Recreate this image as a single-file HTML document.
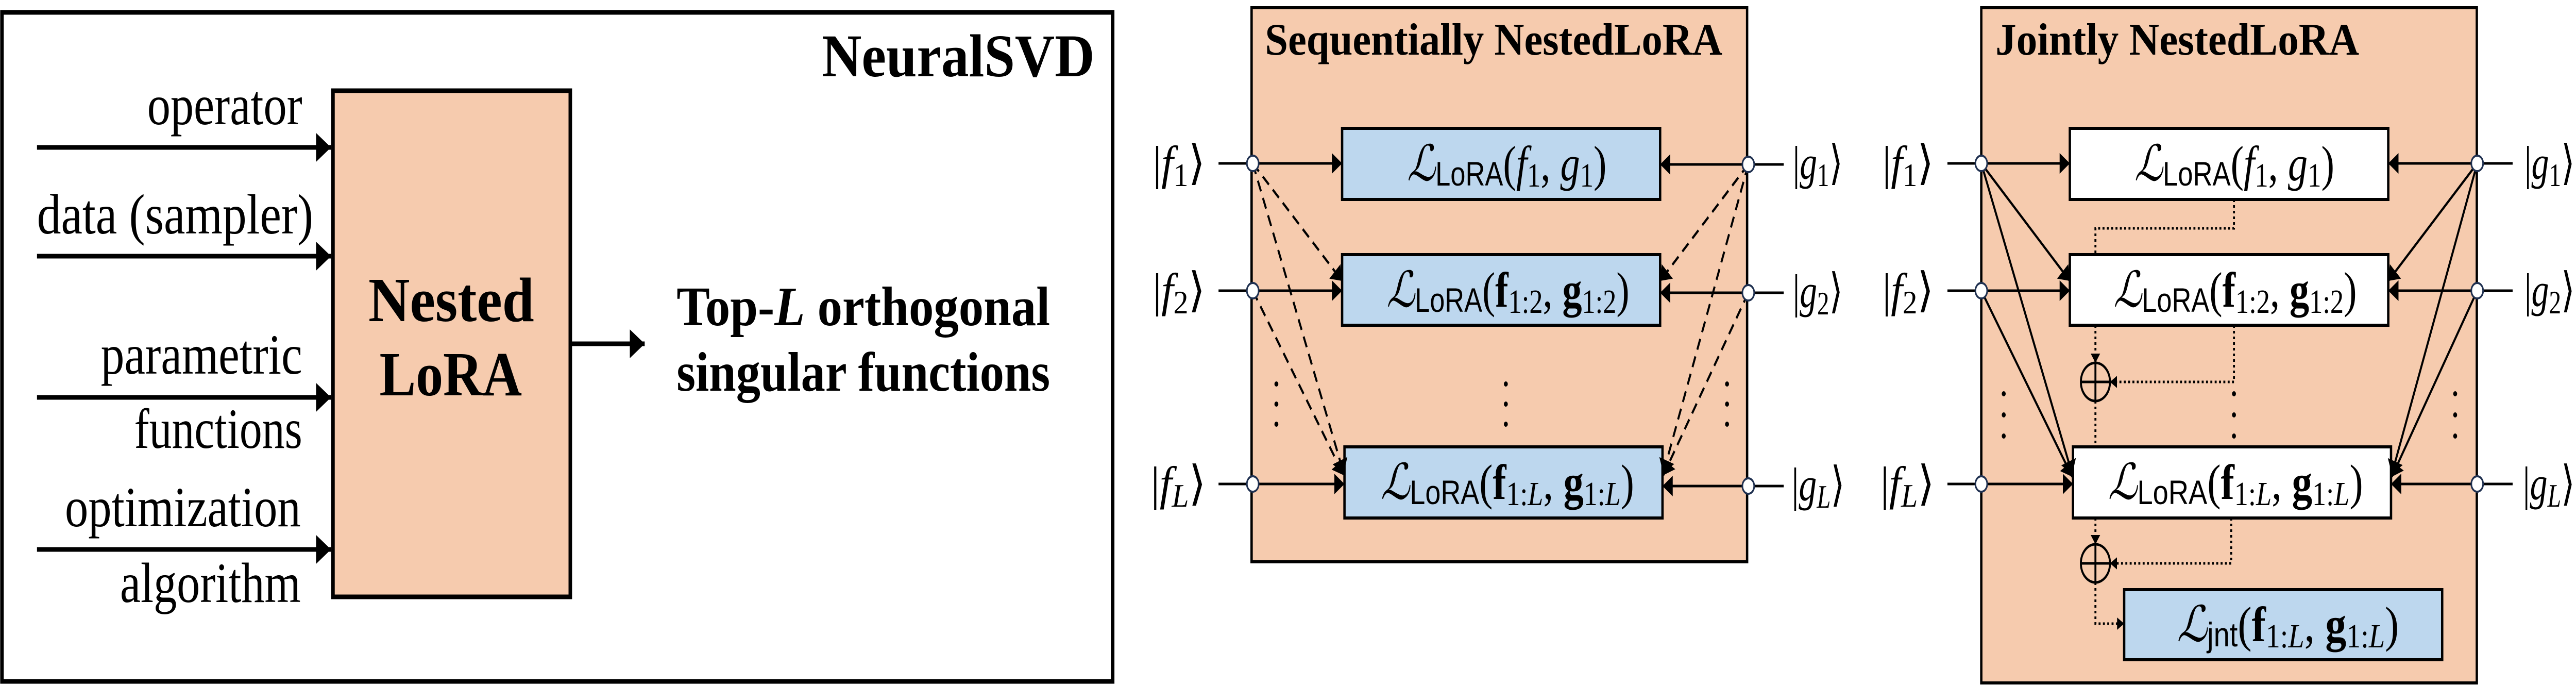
<!DOCTYPE html>
<html><head><meta charset="utf-8"><style>
html,body{margin:0;padding:0;background:#fff;width:100%;height:100%;overflow:hidden}
svg{display:block;position:absolute;left:0;top:0}
text{font-family:"Liberation Serif","DejaVu Serif",serif;fill:#000}
.s{font-family:"Liberation Sans","DejaVu Sans",sans-serif}
</style></head><body>
<svg width="100%" height="100%" viewBox="0 0 6545 1329" preserveAspectRatio="none" xmlns="http://www.w3.org/2000/svg" font-family="Liberation Serif, DejaVu Serif, serif">
<defs>
<marker id="big" markerUnits="userSpaceOnUse" markerWidth="40" markerHeight="56" refX="38" refY="28" orient="auto"><path d="M0,0 L38,28 L0,56 z" fill="#000"/></marker>
<marker id="sm" markerUnits="userSpaceOnUse" markerWidth="28" markerHeight="40" refX="26" refY="20" orient="auto"><path d="M0,0 L26,20 L0,40 z" fill="#000"/></marker>
<marker id="tiny" markerUnits="userSpaceOnUse" markerWidth="20" markerHeight="24" refX="18" refY="12" orient="auto"><path d="M0,0 L18,12 L0,24 z" fill="#000"/></marker>
</defs>

<!-- Panel 1 -->
<rect x="5" y="24" width="2822" height="1298" fill="#fff" stroke="#000" stroke-width="9"/>
<text x="2088" y="148" font-size="118" font-weight="bold" textLength="693" lengthAdjust="spacingAndGlyphs">NeuralSVD</text>
<rect x="846" y="176" width="603" height="982" fill="#F6CBAE" stroke="#000" stroke-width="9"/>
<text x="936" y="623" font-size="122" font-weight="bold" textLength="421" lengthAdjust="spacingAndGlyphs">Nested</text>
<text x="964" y="767" font-size="122" font-weight="bold" textLength="362" lengthAdjust="spacingAndGlyphs">LoRA</text>
<g stroke="#000" stroke-width="9" marker-end="url(#big)">
<line x1="94" y1="286" x2="841" y2="286"/>
<line x1="94" y1="497" x2="841" y2="497"/>
<line x1="94" y1="771" x2="841" y2="771"/>
<line x1="94" y1="1066" x2="841" y2="1066"/>
<line x1="1449" y1="667" x2="1638" y2="667"/>
</g>
<g font-size="110">
<text x="374" y="241" textLength="394" lengthAdjust="spacingAndGlyphs">operator</text>
<text x="94" y="453" textLength="702" lengthAdjust="spacingAndGlyphs">data (sampler)</text>
<text x="256" y="725" textLength="512" lengthAdjust="spacingAndGlyphs">parametric</text>
<text x="341" y="869" textLength="427" lengthAdjust="spacingAndGlyphs">functions</text>
<text x="165" y="1021" textLength="599" lengthAdjust="spacingAndGlyphs">optimization</text>
<text x="305" y="1168" textLength="459" lengthAdjust="spacingAndGlyphs">algorithm</text>
</g>
<text x="1719" y="631" font-size="108" font-weight="bold" textLength="949" lengthAdjust="spacingAndGlyphs">Top-<tspan font-style="italic">L</tspan> orthogonal</text>
<text x="1719" y="758" font-size="108" font-weight="bold" textLength="949" lengthAdjust="spacingAndGlyphs">singular functions</text>

<!-- Panel 2 -->
<rect x="3180" y="15" width="1259" height="1075" fill="#F6CBAE" stroke="#000" stroke-width="6"/>
<text x="3214" y="106" font-size="88" font-weight="bold" textLength="1162" lengthAdjust="spacingAndGlyphs">Sequentially NestedLoRA</text>
<g fill="#BDD7EE" stroke="#000" stroke-width="6">
<rect x="3410" y="249" width="808" height="138"/>
<rect x="3410" y="494" width="808" height="137"/>
<rect x="3416" y="867" width="808" height="138"/>
</g>
<g stroke="#000" stroke-width="5" marker-end="url(#sm)">
<line x1="3096" y1="317" x2="3410" y2="317"/>
<line x1="3096" y1="564" x2="3410" y2="564"/>
<line x1="3096" y1="939" x2="3416" y2="939"/>
<line x1="4532" y1="319" x2="4218" y2="319"/>
<line x1="4532" y1="568" x2="4218" y2="568"/>
<line x1="4532" y1="943" x2="4224" y2="943"/>
</g>
<g stroke="#000" stroke-width="5" stroke-dasharray="22 14" marker-end="url(#sm)">
<line x1="3183" y1="317" x2="3410" y2="545"/>
<line x1="3183" y1="317" x2="3414" y2="918"/>
<line x1="3183" y1="564" x2="3414" y2="922"/>
<line x1="4442" y1="319" x2="4218" y2="545"/>
<line x1="4442" y1="319" x2="4226" y2="918"/>
<line x1="4442" y1="568" x2="4226" y2="922"/>
</g>
<g fill="#000">
<circle cx="3243" cy="745" r="5"/><circle cx="3243" cy="784" r="5"/><circle cx="3243" cy="823" r="5"/>
<circle cx="3826" cy="745" r="5"/><circle cx="3826" cy="784" r="5"/><circle cx="3826" cy="823" r="5"/>
<circle cx="4388" cy="745" r="5"/><circle cx="4388" cy="784" r="5"/><circle cx="4388" cy="823" r="5"/>
</g>
<g fill="#fff" stroke="#1f3050" stroke-width="4">
<circle cx="3183" cy="317" r="15"/><circle cx="3183" cy="564" r="15"/><circle cx="3183" cy="939" r="15"/>
<circle cx="4442" cy="319" r="15"/><circle cx="4442" cy="568" r="15"/><circle cx="4442" cy="943" r="15"/>
</g>
<g font-size="92">
<text x="2929" y="347" textLength="133" lengthAdjust="spacingAndGlyphs">|<tspan font-style="italic">f</tspan><tspan font-size="64" dy="14">1</tspan><tspan dy="-14">⟩</tspan></text>
<text x="2929" y="594" textLength="133" lengthAdjust="spacingAndGlyphs">|<tspan font-style="italic">f</tspan><tspan font-size="64" dy="14">2</tspan><tspan dy="-14">⟩</tspan></text>
<text x="2924" y="969" textLength="140" lengthAdjust="spacingAndGlyphs">|<tspan font-style="italic">f</tspan><tspan font-size="64" dy="14" font-style="italic">L</tspan><tspan dy="-14">⟩</tspan></text>
<text x="4555" y="347" textLength="127" lengthAdjust="spacingAndGlyphs">|<tspan font-style="italic">g</tspan><tspan font-size="64" dy="14">1</tspan><tspan dy="-14">⟩</tspan></text>
<text x="4555" y="596" textLength="127" lengthAdjust="spacingAndGlyphs">|<tspan font-style="italic">g</tspan><tspan font-size="64" dy="14">2</tspan><tspan dy="-14">⟩</tspan></text>
<text x="4552" y="971" textLength="135" lengthAdjust="spacingAndGlyphs">|<tspan font-style="italic">g</tspan><tspan font-size="64" dy="14" font-style="italic">L</tspan><tspan dy="-14">⟩</tspan></text>
</g>
<g font-size="96">
<text x="3575" y="350" textLength="507" lengthAdjust="spacingAndGlyphs"><tspan font-style="italic">ℒ</tspan><tspan class="s" font-size="66" dy="10">LoRA</tspan><tspan dy="-10">(</tspan><tspan font-style="italic">f</tspan><tspan font-size="66" dy="12">1</tspan><tspan dy="-12">, </tspan><tspan font-style="italic">g</tspan><tspan font-size="66" dy="12">1</tspan><tspan dy="-12">)</tspan></text>
<text x="3523" y="595" textLength="617" lengthAdjust="spacingAndGlyphs"><tspan font-style="italic">ℒ</tspan><tspan class="s" font-size="66" dy="10">LoRA</tspan><tspan dy="-10">(</tspan><tspan font-weight="bold">f</tspan><tspan font-size="66" dy="12">1:2</tspan><tspan dy="-12">, </tspan><tspan font-weight="bold">g</tspan><tspan font-size="66" dy="12">1:2</tspan><tspan dy="-12">)</tspan></text>
<text x="3508" y="968" textLength="644" lengthAdjust="spacingAndGlyphs"><tspan font-style="italic">ℒ</tspan><tspan class="s" font-size="66" dy="10">LoRA</tspan><tspan dy="-10">(</tspan><tspan font-weight="bold">f</tspan><tspan font-size="66" dy="12">1:<tspan font-style="italic">L</tspan></tspan><tspan dy="-12">, </tspan><tspan font-weight="bold">g</tspan><tspan font-size="66" dy="12">1:<tspan font-style="italic">L</tspan></tspan><tspan dy="-12">)</tspan></text>
</g>

<!-- Panel 3 -->
<rect x="5034" y="15" width="1259" height="1310" fill="#F6CBAE" stroke="#000" stroke-width="6"/>
<text x="5070" y="106" font-size="88" font-weight="bold" textLength="924" lengthAdjust="spacingAndGlyphs">Jointly NestedLoRA</text>
<g stroke="#000" stroke-width="6">
<rect x="5259" y="249" width="809" height="138" fill="#fff"/>
<rect x="5259" y="494" width="809" height="137" fill="#fff"/>
<rect x="5267" y="867" width="808" height="138" fill="#fff"/>
<rect x="5397" y="1144" width="808" height="136" fill="#BDD7EE"/>
</g>
<g stroke="#000" stroke-width="5" marker-end="url(#sm)">
<line x1="4948" y1="317" x2="5259" y2="317"/>
<line x1="4948" y1="564" x2="5259" y2="564"/>
<line x1="4948" y1="939" x2="5267" y2="939"/>
<line x1="6384" y1="317" x2="6068" y2="317"/>
<line x1="6384" y1="564" x2="6068" y2="564"/>
<line x1="6384" y1="939" x2="6075" y2="939"/>
<line x1="5034" y1="317" x2="5259" y2="545"/>
<line x1="5034" y1="317" x2="5265" y2="920"/>
<line x1="5034" y1="564" x2="5265" y2="925"/>
<line x1="6294" y1="317" x2="6068" y2="545"/>
<line x1="6294" y1="317" x2="6077" y2="920"/>
<line x1="6294" y1="564" x2="6077" y2="925"/>
</g>
<g stroke="#000" stroke-width="5" stroke-dasharray="5 6" fill="none">
<polyline points="5676,387 5676,443 5324,443 5324,494"/>
<polyline points="5324,631 5324,704" marker-end="url(#tiny)"/>
<polyline points="5676,631 5676,741 5361,741" marker-end="url(#tiny)"/>
<polyline points="5324,778 5324,867"/>
<polyline points="5324,1005 5324,1056" marker-end="url(#tiny)"/>
<polyline points="5669,1005 5669,1093 5361,1093" marker-end="url(#tiny)"/>
<polyline points="5324,1130 5324,1210 5397,1210" marker-end="url(#tiny)"/>
</g>
<g fill="none" stroke="#000" stroke-width="5">
<circle cx="5324" cy="741" r="37"/><line x1="5287" y1="741" x2="5361" y2="741"/><line x1="5324" y1="704" x2="5324" y2="778"/>
<circle cx="5324" cy="1093" r="37"/><line x1="5287" y1="1093" x2="5361" y2="1093"/><line x1="5324" y1="1056" x2="5324" y2="1130"/>
</g>
<g fill="#000">
<circle cx="5091" cy="764" r="5"/><circle cx="5091" cy="805" r="5"/><circle cx="5091" cy="846" r="5"/>
<circle cx="5676" cy="764" r="5"/><circle cx="5676" cy="805" r="5"/><circle cx="5676" cy="846" r="5"/>
<circle cx="6238" cy="764" r="5"/><circle cx="6238" cy="805" r="5"/><circle cx="6238" cy="846" r="5"/>
</g>
<g fill="#fff" stroke="#1f3050" stroke-width="4">
<circle cx="5034" cy="317" r="15"/><circle cx="5034" cy="564" r="15"/><circle cx="5034" cy="939" r="15"/>
<circle cx="6294" cy="317" r="15"/><circle cx="6294" cy="564" r="15"/><circle cx="6294" cy="939" r="15"/>
</g>
<g font-size="92">
<text x="4783" y="347" textLength="130" lengthAdjust="spacingAndGlyphs">|<tspan font-style="italic">f</tspan><tspan font-size="64" dy="14">1</tspan><tspan dy="-14">⟩</tspan></text>
<text x="4783" y="594" textLength="130" lengthAdjust="spacingAndGlyphs">|<tspan font-style="italic">f</tspan><tspan font-size="64" dy="14">2</tspan><tspan dy="-14">⟩</tspan></text>
<text x="4778" y="969" textLength="137" lengthAdjust="spacingAndGlyphs">|<tspan font-style="italic">f</tspan><tspan font-size="64" dy="14" font-style="italic">L</tspan><tspan dy="-14">⟩</tspan></text>
<text x="6414" y="347" textLength="128" lengthAdjust="spacingAndGlyphs">|<tspan font-style="italic">g</tspan><tspan font-size="64" dy="14">1</tspan><tspan dy="-14">⟩</tspan></text>
<text x="6414" y="594" textLength="128" lengthAdjust="spacingAndGlyphs">|<tspan font-style="italic">g</tspan><tspan font-size="64" dy="14">2</tspan><tspan dy="-14">⟩</tspan></text>
<text x="6410" y="969" textLength="132" lengthAdjust="spacingAndGlyphs">|<tspan font-style="italic">g</tspan><tspan font-size="64" dy="14" font-style="italic">L</tspan><tspan dy="-14">⟩</tspan></text>
</g>
<g font-size="96">
<text x="5423" y="350" textLength="508" lengthAdjust="spacingAndGlyphs"><tspan font-style="italic">ℒ</tspan><tspan class="s" font-size="66" dy="10">LoRA</tspan><tspan dy="-10">(</tspan><tspan font-style="italic">f</tspan><tspan font-size="66" dy="12">1</tspan><tspan dy="-12">, </tspan><tspan font-style="italic">g</tspan><tspan font-size="66" dy="12">1</tspan><tspan dy="-12">)</tspan></text>
<text x="5370" y="595" textLength="618" lengthAdjust="spacingAndGlyphs"><tspan font-style="italic">ℒ</tspan><tspan class="s" font-size="66" dy="10">LoRA</tspan><tspan dy="-10">(</tspan><tspan font-weight="bold">f</tspan><tspan font-size="66" dy="12">1:2</tspan><tspan dy="-12">, </tspan><tspan font-weight="bold">g</tspan><tspan font-size="66" dy="12">1:2</tspan><tspan dy="-12">)</tspan></text>
<text x="5356" y="968" textLength="648" lengthAdjust="spacingAndGlyphs"><tspan font-style="italic">ℒ</tspan><tspan class="s" font-size="66" dy="10">LoRA</tspan><tspan dy="-10">(</tspan><tspan font-weight="bold">f</tspan><tspan font-size="66" dy="12">1:<tspan font-style="italic">L</tspan></tspan><tspan dy="-12">, </tspan><tspan font-weight="bold">g</tspan><tspan font-size="66" dy="12">1:<tspan font-style="italic">L</tspan></tspan><tspan dy="-12">)</tspan></text>
<text x="5531" y="1244" textLength="564" lengthAdjust="spacingAndGlyphs"><tspan font-style="italic">ℒ</tspan><tspan class="s" font-size="66" dy="10">jnt</tspan><tspan dy="-10">(</tspan><tspan font-weight="bold">f</tspan><tspan font-size="66" dy="12">1:<tspan font-style="italic">L</tspan></tspan><tspan dy="-12">, </tspan><tspan font-weight="bold">g</tspan><tspan font-size="66" dy="12">1:<tspan font-style="italic">L</tspan></tspan><tspan dy="-12">)</tspan></text>
</g>
</svg>
</body></html>
